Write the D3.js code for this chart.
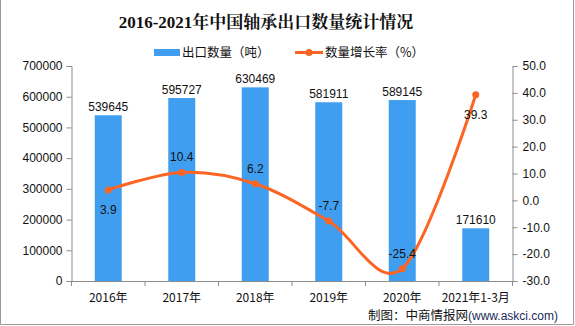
<!DOCTYPE html>
<html><head><meta charset="utf-8">
<script src="https://cdn.jsdelivr.net/npm/d3@7"></script>
<style>body{margin:0;background:#fff;}svg{display:block;}</style>
</head><body>
<svg id="c" width="575" height="326"></svg>
<script>
const categories = ["2016年","2017年","2018年","2019年","2020年","2021年1-3月"];
const exportQty = [539645, 595727, 630469, 581911, 589145, 171610];
const growthRate = [3.9, 10.4, 6.2, -7.7, -25.4, 39.3];
const leftTicks = [0,100000,200000,300000,400000,500000,600000,700000];
const rightTicks = [-30,-20,-10,0,10,20,30,40,50];
const rateLabelBelow = [true,false,false,false,false,true];

const svg = d3.select("#c");
const W = 575, H = 326;
const m = {l:71.5, r:512.5, t:66, b:281};
const blue = "#409ef0", orange = "#fb6423", axisCol = "#8c8c8c";
const numFont = "'Liberation Sans', Arial, sans-serif";
const cjkFont = "'Noto Sans CJK SC', sans-serif";

// border
svg.append("path").attr("d",`M0.5,0 V324.5 H573.5 V0`).attr("fill","none").attr("stroke","#9a9a9a");

const x = d3.scaleBand().domain(categories).range([m.l, m.r]).padding(0);
const yL = d3.scaleLinear().domain([0,700000]).range([m.b, m.t]);
const yR = d3.scaleLinear().domain([-30,50]).range([m.b, m.t]);

// title
svg.append("text").attr("x",266).attr("y",28).attr("text-anchor","middle")
  .attr("font-family","'Liberation Serif','Noto Serif CJK SC','Noto Sans CJK SC',serif")
  .attr("font-weight","bold").attr("font-size",17).attr("fill","#111")
  .text("2016-2021年中国轴承出口数量统计情况");

// legend
svg.append("rect").attr("x",154).attr("y",49).attr("width",26).attr("height",7).attr("fill",blue);
svg.append("text").attr("x",182).attr("y",57).attr("font-family",cjkFont).attr("font-size",12.5).attr("fill","#111").text("出口数量（吨）");
svg.append("line").attr("x1",295).attr("x2",323).attr("y1",52.5).attr("y2",52.5).attr("stroke",orange).attr("stroke-width",3);
svg.append("circle").attr("cx",309).attr("cy",52.5).attr("r",3.5).attr("fill",orange);
svg.append("text").attr("x",325).attr("y",57).attr("font-family",cjkFont).attr("font-size",12.5).attr("fill","#111").text("数量增长率（%）");

// axes
const axL = svg.append("g").attr("transform",`translate(${m.l},0)`)
  .call(d3.axisLeft(yL).tickValues(leftTicks).tickFormat(d3.format("d")).tickSize(5).tickPadding(4));
const axR = svg.append("g").attr("transform",`translate(${m.r},0)`)
  .call(d3.axisRight(yR).tickValues(rightTicks).tickFormat(d3.format(".1f")).tickSize(5).tickPadding(5));
const axB = svg.append("g").attr("transform",`translate(0,${m.b})`)
  .call(d3.axisBottom(x).tickSize(0).tickPadding(12));
// band-boundary ticks on bottom axis
axB.selectAll(".bt").data(categories.concat(["end"])).enter().append("line")
  .attr("x1",(d,i)=> i<categories.length ? x(d) : m.r).attr("x2",(d,i)=> i<categories.length ? x(d) : m.r)
  .attr("y1",0).attr("y2",5).attr("stroke",axisCol);
[axL,axR,axB].forEach(a=>{
  a.selectAll("path.domain").attr("stroke",axisCol);
  a.selectAll(".tick line").attr("stroke",axisCol);
  a.selectAll("text").attr("font-family",numFont).attr("font-size",12).attr("fill","#111");
});
axB.selectAll("text").attr("font-family",cjkFont).attr("font-size",12);
axR.selectAll("text").text(d=>d3.format(".1f")(d).replace("−","-"));

// bars
const bw = 27;
svg.append("g").selectAll("rect").data(exportQty).enter().append("rect")
  .attr("x",(d,i)=>x(categories[i])+x.bandwidth()/2-bw/2)
  .attr("y",d=>yL(d)).attr("width",bw).attr("height",d=>m.b-yL(d)).attr("fill",blue);
svg.append("g").selectAll("text").data(exportQty).enter().append("text")
  .attr("x",(d,i)=>x(categories[i])+x.bandwidth()/2).attr("y",d=>yL(d)-4)
  .attr("text-anchor","middle").attr("font-family",numFont).attr("font-size",12).attr("fill","#111")
  .text(d=>d);

// line
const pts = growthRate.map((v,i)=>[x(categories[i])+x.bandwidth()/2, yR(v)]);
svg.append("path").attr("d",d3.line().curve(d3.curveCardinal.tension(0))(pts))
  .attr("fill","none").attr("stroke",orange).attr("stroke-width",3);
svg.append("g").selectAll("circle").data(pts).enter().append("circle")
  .attr("cx",d=>d[0]).attr("cy",d=>d[1]).attr("r",3.5).attr("fill",orange);
svg.append("g").selectAll("text").data(growthRate).enter().append("text")
  .attr("x",(d,i)=>pts[i][0]).attr("y",(d,i)=> rateLabelBelow[i] ? pts[i][1]+24 : pts[i][1]-11)
  .attr("text-anchor","middle").attr("font-family",numFont).attr("font-size",12).attr("fill","#111")
  .text(d=>d.toFixed(1));

// footer
const ft = svg.append("text").attr("x",368).attr("y",320).attr("font-size",12.5).attr("fill","#111");
ft.append("tspan").attr("font-family",cjkFont).text("制图：中商情报网");
ft.append("tspan").attr("font-family",numFont).attr("font-size",12).attr("fill","#1a2a5a").text("(www.askci.com)");
</script>
</body></html>
